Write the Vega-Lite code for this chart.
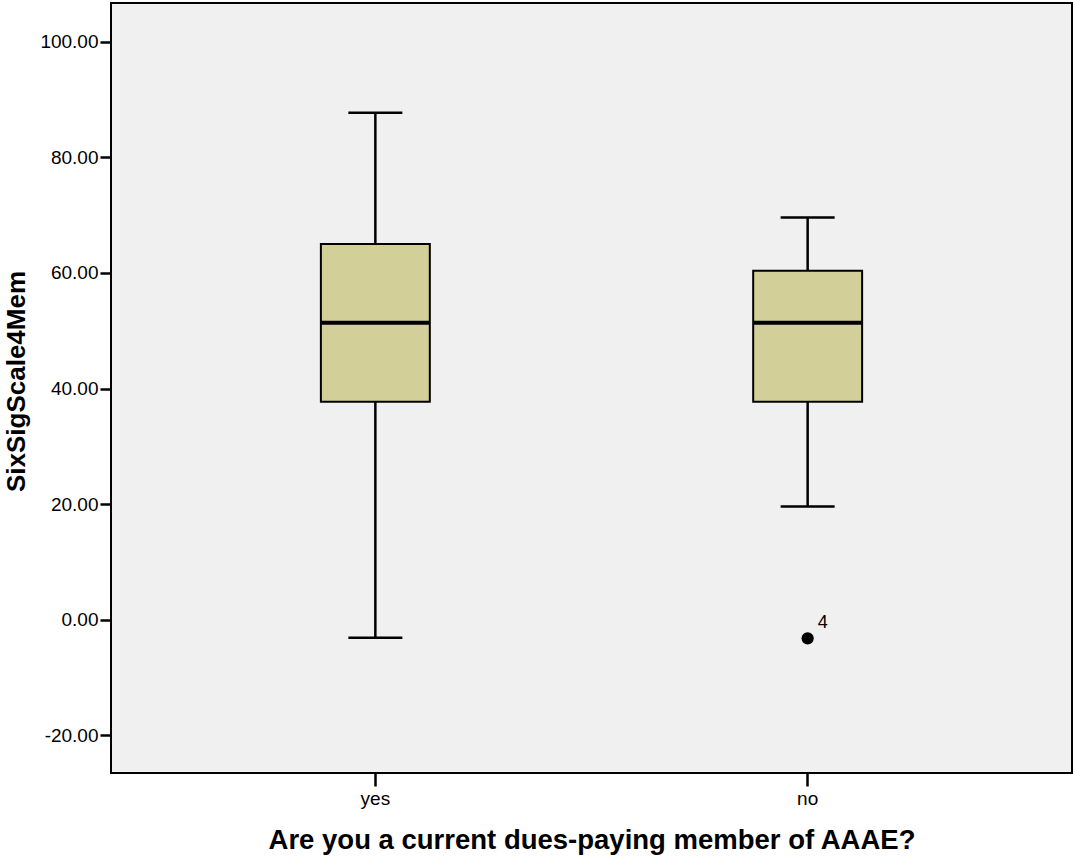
{
  "$schema": "https://vega.github.io/schema/vega-lite/v6.json",
  "width": 961,
  "height": 770,
  "autosize": {"type": "none"},
  "padding": {"left": 111, "top": 3, "right": 1, "bottom": 83},
  "background": "white",
  "config": {
    "font": "Liberation Sans",
    "view": {"fill": "#f0f0f0", "stroke": "black", "strokeWidth": 2}
  },
  "datasets": {
    "boxes": [
      {"group": "yes", "lower": -3.1, "q1": 37.7, "median": 51.4, "q3": 65.0, "upper": 87.7},
      {"group": "no", "lower": 19.6, "q1": 37.7, "median": 51.4, "q3": 60.4, "upper": 69.6}
    ],
    "outliers": [
      {"group": "no", "value": -3.2, "label": "4"}
    ]
  },
  "encoding": {
    "x": {
      "field": "group",
      "type": "nominal",
      "scale": {"domain": ["yes", "no"], "paddingInner": 0.748, "paddingOuter": 0.4855},
      "axis": {
        "title": "Are you a current dues-paying member of AAAE?",
        "titleFontSize": 27.5,
        "titleFontWeight": "bold",
        "titleColor": "black",
        "titlePadding": 18,
        "labelAngle": 0,
        "labelFontSize": 19,
        "labelColor": "black",
        "labelPadding": 3,
        "tickSize": 13,
        "tickWidth": 2.5,
        "tickColor": "black",
        "domain": false,
        "grid": false
      }
    }
  },
  "layer": [
    {
      "data": {"name": "boxes"},
      "mark": {"type": "rule", "color": "black", "strokeWidth": 2.5},
      "encoding": {
        "y": {
          "field": "lower",
          "type": "quantitative",
          "scale": {"domain": [-26.5, 106.7], "nice": false, "zero": false},
          "axis": {
            "title": "SixSigScale4Mem",
            "titleFontSize": 26,
            "titleFontWeight": "bold",
            "titleColor": "black",
            "titlePadding": 10,
            "titleY": 378,
            "values": [-20, 0, 20, 40, 60, 80, 100],
            "labelExpr": "datum.value < 0 ? '-' + format(abs(datum.value), '.2f') : format(datum.value, '.2f')",
            "labelFontSize": 19,
            "labelColor": "black",
            "labelPadding": 2,
            "tickSize": 11,
            "tickWidth": 2.5,
            "tickColor": "black",
            "domain": false,
            "grid": false
          }
        },
        "y2": {"field": "upper"}
      }
    },
    {
      "data": {"name": "boxes"},
      "mark": {"type": "bar", "fill": "#d3cf98", "stroke": "black", "strokeWidth": 2},
      "encoding": {
        "y": {"field": "q1", "type": "quantitative"},
        "y2": {"field": "q3"}
      }
    },
    {
      "data": {"name": "boxes"},
      "mark": {"type": "tick", "color": "black", "size": 109, "thickness": 4, "opacity": 1},
      "encoding": {
        "y": {"field": "median", "type": "quantitative"}
      }
    },
    {
      "data": {"name": "boxes"},
      "mark": {"type": "tick", "color": "black", "size": 54, "thickness": 2.5, "opacity": 1},
      "encoding": {
        "y": {"field": "lower", "type": "quantitative"}
      }
    },
    {
      "data": {"name": "boxes"},
      "mark": {"type": "tick", "color": "black", "size": 54, "thickness": 2.5, "opacity": 1},
      "encoding": {
        "y": {"field": "upper", "type": "quantitative"}
      }
    },
    {
      "data": {"name": "outliers"},
      "mark": {"type": "point", "shape": "circle", "filled": true, "color": "black", "size": 150, "opacity": 1},
      "encoding": {
        "y": {"field": "value", "type": "quantitative"}
      }
    },
    {
      "data": {"name": "outliers"},
      "mark": {"type": "text", "align": "left", "baseline": "middle", "dx": 10, "dy": -15, "fontSize": 18, "color": "black"},
      "encoding": {
        "y": {"field": "value", "type": "quantitative"},
        "text": {"field": "label"}
      }
    }
  ]
}
